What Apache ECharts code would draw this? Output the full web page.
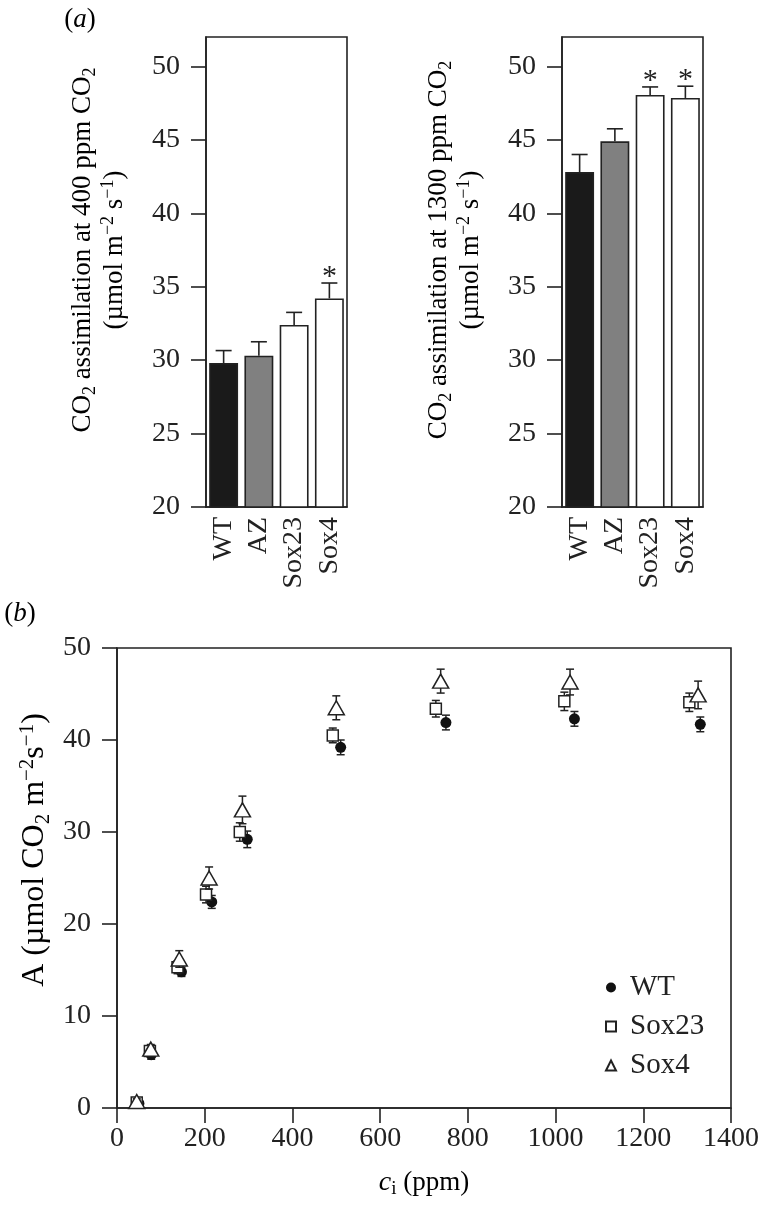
<!DOCTYPE html>
<html>
<head>
<meta charset="utf-8">
<script src="https://cdn.jsdelivr.net/npm/echarts@6/dist/echarts.min.js"></script>
<style>
html,body{margin:0;padding:0;background:#fff;}
#c{width:763px;height:1208px;}
</style>
</head>
<body>
<div id="c"></div>
<script>
// ---------- data ----------
const barCats = ['WT', 'AZ', 'Sox23', 'Sox4'];
const a400 = [29.8, 30.3, 32.4, 34.2];
const a400Err = [0.85, 0.95, 0.85, 1.05];
const a400Sig = [false, false, false, true];
const a1300 = [42.8, 44.9, 48.05, 47.85];
const a1300Err = [1.2, 0.85, 0.55, 0.8];
const a1300Sig = [false, false, true, true];
const barTicks = [20, 25, 30, 35, 40, 45, 50];

const wtCi = [50, 78, 147, 216, 297, 510, 750, 1043, 1330];
const wtA = [0.5, 5.8, 14.8, 22.4, 29.2, 39.2, 41.9, 42.3, 41.7];
const wtErr = [0.3, 0.5, 0.5, 0.7, 0.9, 0.8, 0.8, 0.8, 0.8];
const s23Ci = [45, 75, 138, 203, 280, 492, 727, 1020, 1305];
const s23A = [0.6, 6.2, 15.3, 23.2, 30.0, 40.5, 43.4, 44.2, 44.1];
const s23Err = [0.3, 0.5, 0.7, 0.9, 1.0, 0.8, 0.9, 1.0, 1.0];
const s4Ci = [45, 77, 142, 210, 286, 500, 738, 1033, 1325];
const s4A = [0.7, 6.4, 16.2, 25.0, 32.4, 43.5, 46.4, 46.3, 44.9];
const s4Err = [0.3, 0.5, 0.9, 1.2, 1.5, 1.3, 1.3, 1.4, 1.5];

// ---------- styling ----------
const F = 'Liberation Serif';
const INK = '#222';
const TICK_FS = 28;
const barColors = ['#1a1a1a', '#808080', '#ffffff', '#ffffff'];

const chart = echarts.init(document.getElementById('c'), null, {renderer: 'canvas'});

function barErrRender(params, api) {
  const x = api.value(0), v = api.value(1), e = api.value(2);
  const p0 = api.coord([x, v]);
  const p1 = api.coord([x, v + e]);
  const st = {stroke: INK, lineWidth: 1.6};
  return {type: 'group', children: [
    {type: 'line', shape: {x1: p0[0], y1: p0[1], x2: p1[0], y2: p1[1]}, style: st},
    {type: 'line', shape: {x1: p1[0] - 8, y1: p1[1], x2: p1[0] + 8, y2: p1[1]}, style: st}
  ]};
}
function starRender(params, api) {
  const p = api.coord([api.value(0), api.value(1)]);
  return {type: 'text', x: p[0], y: p[1] - 6,
    style: {text: '*', fontSize: 30, fontFamily: F, fill: INK, align: 'center', verticalAlign: 'middle'}};
}
function ptErrRender(params, api) {
  const x = api.value(0), v = api.value(1), e = api.value(2);
  const lo = api.coord([x, v - e]);
  const hi = api.coord([x, v + e]);
  const st = {stroke: INK, lineWidth: 1.5};
  return {type: 'group', children: [
    {type: 'line', shape: {x1: lo[0], y1: lo[1], x2: hi[0], y2: hi[1]}, style: st},
    {type: 'line', shape: {x1: hi[0] - 4, y1: hi[1], x2: hi[0] + 4, y2: hi[1]}, style: st},
    {type: 'line', shape: {x1: lo[0] - 4, y1: lo[1], x2: lo[0] + 4, y2: lo[1]}, style: st}
  ]};
}

const axisLineStyle = {color: INK, width: 1.6};
function catAxis(gi) {
  return {gridIndex: gi, type: 'category', data: barCats,
    axisTick: {show: false},
    axisLine: {lineStyle: axisLineStyle},
    axisLabel: {interval: 0, hideOverlap: false, rotate: 90, margin: 10, fontSize: TICK_FS, fontFamily: F, color: INK}};
}
function barValAxis(gi) {
  return {gridIndex: gi, type: 'value', min: 20, max: 52,
    splitLine: {show: false},
    axisLine: {show: true, lineStyle: axisLineStyle},
    axisTick: {show: true, length: 15, customValues: barTicks, lineStyle: axisLineStyle},
    axisLabel: {customValues: barTicks, margin: 26, fontSize: TICK_FS, fontFamily: F, color: INK}};
}

const rich = {
  n: {fontSize: 27, fontFamily: F, color: INK, lineHeight: 32},
  sub: {fontSize: 18, fontFamily: F, color: INK, lineHeight: 16, verticalAlign: 'bottom'},
  sup: {fontSize: 18, fontFamily: F, color: INK, lineHeight: 20, verticalAlign: 'top'},
  it: {fontSize: 28, fontFamily: F, color: INK, lineHeight: 32, fontStyle: 'italic'},
  isub: {fontSize: 19, fontFamily: F, color: INK, lineHeight: 16, verticalAlign: 'bottom'}
};
const richB = {
  n: {fontSize: 32, fontFamily: F, color: INK, lineHeight: 37},
  sub: {fontSize: 21, fontFamily: F, color: INK, lineHeight: 18, verticalAlign: 'bottom'},
  sup: {fontSize: 21, fontFamily: F, color: INK, lineHeight: 23, verticalAlign: 'top'}
};
function barTitle(ppm) {
  return '{n|CO}{sub|2}{n| assimilation at ' + ppm + ' ppm CO}{sub|2}\n{n|(µmol m}{sup|−2}{n| s}{sup|−1}{n|)}';
}

const option = {
  animation: false,
  backgroundColor: '#fff',
  grid: [
    {left: 206, top: 37, width: 141, height: 470, show: true, borderColor: INK, borderWidth: 1.6, backgroundColor: 'transparent'},
    {left: 562, top: 37, width: 141, height: 470, show: true, borderColor: INK, borderWidth: 1.6, backgroundColor: 'transparent'},
    {left: 117, top: 648, width: 614, height: 460, show: true, borderColor: INK, borderWidth: 1.6, backgroundColor: 'transparent'}
  ],
  xAxis: [
    catAxis(0), catAxis(1),
    {gridIndex: 2, type: 'value', min: 0, max: 1400, interval: 200,
      splitLine: {show: false},
      axisLine: {lineStyle: axisLineStyle},
      axisTick: {length: 15, lineStyle: axisLineStyle},
      axisLabel: {margin: 17, fontSize: TICK_FS, fontFamily: F, color: INK, formatter: v => String(v)}}
  ],
  yAxis: [
    barValAxis(0), barValAxis(1),
    {gridIndex: 2, type: 'value', min: 0, max: 50, interval: 10,
      splitLine: {show: false},
      axisLine: {show: true, lineStyle: axisLineStyle},
      axisTick: {show: true, length: 15, lineStyle: axisLineStyle},
      axisLabel: {margin: 26, fontSize: TICK_FS, fontFamily: F, color: INK}}
  ],
  legend: {
    orient: 'vertical', left: 600, top: 968, itemGap: 10,
    itemWidth: 10, itemHeight: 10,
    textStyle: {fontSize: 29, fontFamily: F, color: INK, padding: [0, 0, 0, 9]},
    data: [{name: 'WT', icon: 'circle'}, {name: 'Sox23', icon: 'rect'}, {name: 'Sox4', icon: 'triangle'}]
  },
  graphic: [
    {type: 'text', x: 80, y: 20, style: {text: '{p|(}{pi|a}{p|)}', align: 'center', verticalAlign: 'middle',
      rich: {p: {fontSize: 27, fontFamily: F, color: INK}, pi: {fontSize: 27, fontFamily: F, color: INK, fontStyle: 'italic'}}}},
    {type: 'text', x: 20, y: 614, style: {text: '{p|(}{pi|b}{p|)}', align: 'center', verticalAlign: 'middle',
      rich: {p: {fontSize: 27, fontFamily: F, color: INK}, pi: {fontSize: 27, fontFamily: F, color: INK, fontStyle: 'italic'}}}},
    {type: 'text', x: 99, y: 250, rotation: Math.PI / 2,
      style: {text: barTitle(400), rich: rich, align: 'center', verticalAlign: 'middle'}},
    {type: 'text', x: 455, y: 250, rotation: Math.PI / 2,
      style: {text: barTitle(1300), rich: rich, align: 'center', verticalAlign: 'middle'}},
    {type: 'text', x: 35, y: 850, rotation: Math.PI / 2,
      style: {text: '{n|A (µmol CO}{sub|2}{n| m}{sup|−2}{n|s}{sup|−1}{n|)}', rich: richB, align: 'center', verticalAlign: 'middle'}},
    {type: 'text', x: 424, y: 1183,
      style: {text: '{it|c}{isub|i}{n| (ppm)}', rich: rich, align: 'center', verticalAlign: 'middle'}}
  ],
  series: [
    {type: 'bar', xAxisIndex: 0, yAxisIndex: 0, barWidth: '82%',
      itemStyle: {borderColor: INK, borderWidth: 1.6},
      data: a400.map((v, i) => ({value: v, itemStyle: {color: barColors[i]}}))},
    {type: 'custom', xAxisIndex: 0, yAxisIndex: 0, renderItem: barErrRender, z: 3,
      data: barCats.map((c, i) => [i, a400[i], a400Err[i]])},
    {type: 'custom', xAxisIndex: 0, yAxisIndex: 0, renderItem: starRender, z: 3,
      data: barCats.map((c, i) => [i, a400[i] + a400Err[i]]).filter((d, i) => a400Sig[i])},
    {type: 'bar', xAxisIndex: 1, yAxisIndex: 1, barWidth: '82%',
      itemStyle: {borderColor: INK, borderWidth: 1.6},
      data: a1300.map((v, i) => ({value: v, itemStyle: {color: barColors[i]}}))},
    {type: 'custom', xAxisIndex: 1, yAxisIndex: 1, renderItem: barErrRender, z: 3,
      data: barCats.map((c, i) => [i, a1300[i], a1300Err[i]])},
    {type: 'custom', xAxisIndex: 1, yAxisIndex: 1, renderItem: starRender, z: 3,
      data: barCats.map((c, i) => [i, a1300[i] + a1300Err[i]]).filter((d, i) => a1300Sig[i])},

    {type: 'custom', name: 'wtErr', xAxisIndex: 2, yAxisIndex: 2, renderItem: ptErrRender, z: 2,
      data: wtCi.map((x, i) => [x, wtA[i], wtErr[i]])},
    {type: 'scatter', name: 'WT', xAxisIndex: 2, yAxisIndex: 2, symbol: 'circle', symbolSize: 11, z: 3,
      itemStyle: {color: '#111', opacity: 1},
      data: wtCi.map((x, i) => [x, wtA[i]])},
    {type: 'custom', name: 's23Err', xAxisIndex: 2, yAxisIndex: 2, renderItem: ptErrRender, z: 4,
      data: s23Ci.map((x, i) => [x, s23A[i], s23Err[i]])},
    {type: 'scatter', name: 'Sox23', xAxisIndex: 2, yAxisIndex: 2, symbol: 'rect', symbolSize: 11, z: 5,
      itemStyle: {color: '#fff', borderColor: INK, borderWidth: 1.5, opacity: 1},
      data: s23Ci.map((x, i) => [x, s23A[i]])},
    {type: 'custom', name: 's4Err', xAxisIndex: 2, yAxisIndex: 2, renderItem: ptErrRender, z: 6,
      data: s4Ci.map((x, i) => [x, s4A[i], s4Err[i]])},
    {type: 'scatter', name: 'Sox4', xAxisIndex: 2, yAxisIndex: 2, symbol: 'triangle', symbolSize: [16, 14], z: 7,
      itemStyle: {color: '#fff', borderColor: INK, borderWidth: 1.5, opacity: 1},
      data: s4Ci.map((x, i) => [x, s4A[i]])}
  ]
};
chart.setOption(option);
</script>
</body>
</html>
